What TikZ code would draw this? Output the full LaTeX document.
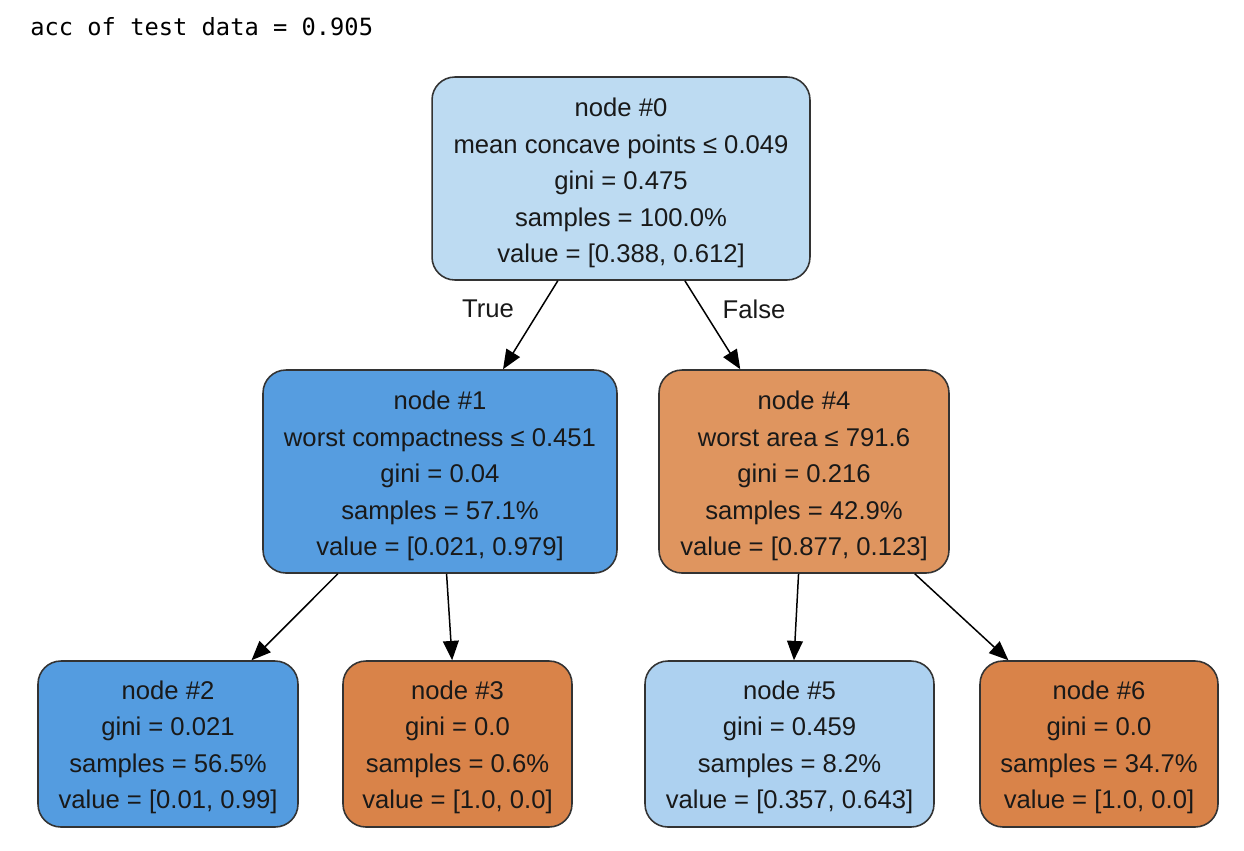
\documentclass[tikz,border=0pt]{standalone}
\usepackage{fontspec}
\setmainfont{Liberation Sans}
\newfontfamily\accfont{DejaVu Sans Mono}
\usetikzlibrary{arrows.meta}
\definecolor{lightblue}{HTML}{BDDBF2}
\definecolor{paleblue}{HTML}{ADD1F0}
\definecolor{midblue}{HTML}{569DE0}
\definecolor{deepblue}{HTML}{549CE0}
\definecolor{lightorange}{HTML}{DF955F}
\definecolor{deeporange}{HTML}{D98349}
\newcommand{\splitgap}{\rule{0pt}{16pt}}
\newcommand{\leafgap}{\rule{0pt}{14.5pt}}
\tikzset{
  treenode/.style={draw=black!80, line width=.9pt, rounded corners=13pt,
    align=center, inner sep=0pt, text=black!90,
    font=\fontsize{14.6}{20.8}\selectfont},
  split/.style={treenode, minimum height=4.06cm},
  leaf/.style={treenode, minimum height=3.32cm},
  edge/.style={-{Triangle[length=11pt,width=9pt]}, line width=.85pt},
  edgelabel/.style={inner sep=0pt, text=black!90, font=\fontsize{14.6}{16}\selectfont},
}
\begin{document}
\begin{tikzpicture}[x=0.02cm,y=-0.02cm]
\useasboundingbox (0,0) rectangle (1244,850);
\node[anchor=base west, inner sep=0pt, font=\accfont\fontsize{13.5}{16}\selectfont] (acc) at (30,35) {acc of test data = 0.905};
% split nodes
\node[split, fill=lightblue, minimum width=7.56cm] (n0) at (621,178.5)
  {\splitgap node \#0\\mean concave points ≤ 0.049\\gini = 0.475\\samples = 100.0\%\\value = [0.388, 0.612]};
\node[split, fill=midblue, minimum width=7.08cm] (n1) at (440,471.5)
  {\splitgap node \#1\\worst compactness ≤ 0.451\\gini = 0.04\\samples = 57.1\%\\value = [0.021, 0.979]};
\node[split, fill=lightorange, minimum width=5.8cm] (n4) at (804,471.5)
  {\splitgap node \#4\\worst area ≤ 791.6\\gini = 0.216\\samples = 42.9\%\\value = [0.877, 0.123]};
% leaves
\node[leaf, fill=deepblue, minimum width=5.2cm] (n2) at (168,744)
  {\leafgap node \#2\\gini = 0.021\\samples = 56.5\%\\value = [0.01, 0.99]};
\node[leaf, fill=deeporange, minimum width=4.58cm] (n3) at (457.5,744)
  {\leafgap node \#3\\gini = 0.0\\samples = 0.6\%\\value = [1.0, 0.0]};
\node[leaf, fill=paleblue, minimum width=5.78cm] (n5) at (789.5,744)
  {\leafgap node \#5\\gini = 0.459\\samples = 8.2\%\\value = [0.357, 0.643]};
\node[leaf, fill=deeporange, minimum width=4.76cm] (n6) at (1099,744)
  {\leafgap node \#6\\gini = 0.0\\samples = 34.7\%\\value = [1.0, 0.0]};
% edges
\draw[edge] (n0) -- (n1);
\draw[edge] (n0) -- (n4);
\draw[edge] (n1) -- (n2);
\draw[edge] (n1) -- (n3);
\draw[edge] (n4) -- (n5);
\draw[edge] (n4) -- (n6);
\node[edgelabel] (truelbl) at (488,309) {True};
\node[edgelabel] (falselbl) at (754,309) {False};
\end{tikzpicture}
\end{document}
